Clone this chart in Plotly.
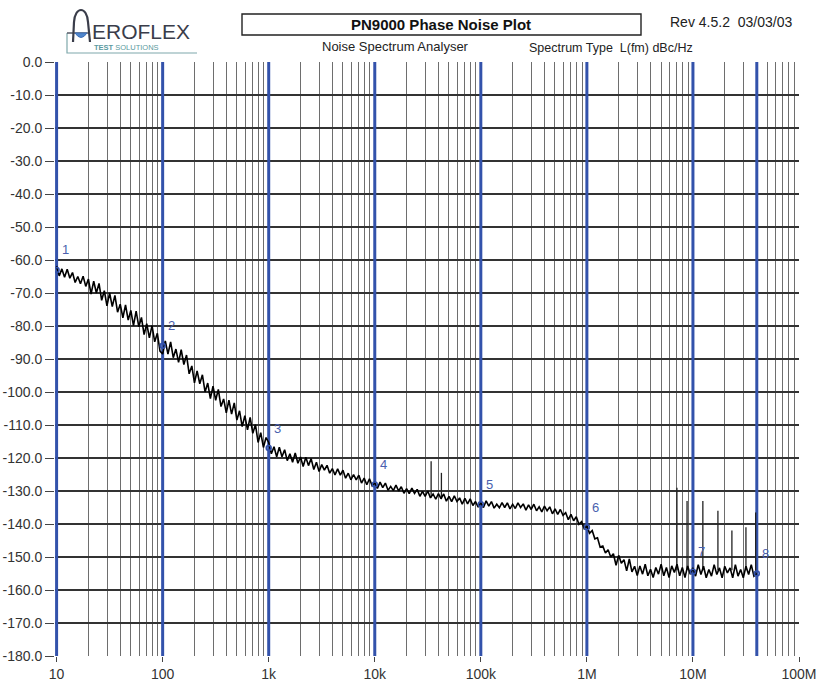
import math
import plotly.graph_objects as go

# ---------------- data ----------------
# analyser sample grid: 40 log-spaced points per decade
mantissa = [1.000, 1.059, 1.122, 1.189, 1.259, 1.334, 1.413, 1.496, 1.585, 1.679,
            1.778, 1.884, 1.995, 2.113, 2.239, 2.371, 2.512, 2.661, 2.818, 2.985,
            3.162, 3.350, 3.548, 3.758, 3.981, 4.217, 4.467, 4.732, 5.012, 5.309,
            5.623, 5.957, 6.310, 6.683, 7.079, 7.499, 7.943, 8.414, 8.913, 9.441]
decade_start_hz = [10, 100, 1e3, 1e4, 1e5, 1e6, 1e7]

level_10hz = [-61.8, -64.8, -62.7, -65.2, -62.8, -65.5, -63.8, -66.8, -65.0, -67.2,
              -64.9, -68.0, -65.8, -70.3, -66.4, -70.0, -67.1, -72.2, -69.3, -73.9,
              -70.0, -74.1, -70.7, -75.8, -73.4, -77.5, -73.6, -78.2, -75.3, -79.9,
              -75.5, -80.2, -77.4, -82.6, -79.3, -83.6, -79.9, -84.8, -82.2, -87.6]
level_100hz = [-88.5, -84.5, -88.5, -84.8, -89.6, -87.0, -91.0, -87.2, -91.7, -88.8,
               -94.5, -92.1, -97.2, -93.6, -97.5, -94.8, -100.0, -97.3, -102.0, -98.2,
               -102.5, -99.2, -104.4, -102.1, -106.3, -102.5, -106.7, -103.3, -108.5, -105.7,
               -110.5, -107.2, -111.5, -107.7, -112.5, -109.9, -115.3, -112.3, -116.8, -113.8]
level_1khz = [-115.3, -118.7, -116.6, -119.6, -116.7, -119.6, -117.5, -120.8, -118.7, -121.3,
              -118.5, -121.6, -119.7, -122.6, -119.8, -122.3, -120.2, -123.5, -121.3, -124.1,
              -122.0, -123.7, -122.2, -124.6, -123.2, -125.1, -123.3, -125.2, -123.7, -126.1,
              -124.6, -126.6, -125.0, -126.6, -125.2, -127.6, -126.1, -128.1, -126.3, -128.4]
level_10khz = [-127.5, -129.2, -127.3, -129.0, -127.6, -129.8, -128.6, -129.9, -128.2, -130.0,
               -128.7, -130.7, -129.3, -130.8, -129.1, -130.7, -129.5, -131.6, -130.1, -131.6,
               -130.0, -132.1, -130.9, -132.5, -130.8, -132.3, -130.9, -133.1, -131.6, -133.2,
               -131.5, -133.2, -132.1, -134.0, -132.2, -133.9, -132.4, -134.4, -133.2, -134.9]
level_100khz = [-133.5, -135.0, -133.0, -134.6, -133.2, -135.2, -134.0, -135.1, -133.5, -135.0,
                -133.6, -135.4, -134.0, -135.3, -133.6, -135.0, -133.9, -135.8, -134.2, -135.6,
                -134.0, -136.0, -134.8, -136.3, -134.6, -136.0, -134.8, -136.9, -135.4, -137.1,
                -135.6, -137.4, -136.6, -138.7, -137.1, -139.0, -137.8, -140.1, -139.3, -141.4]
level_1mhz = [-140.5, -142.8, -142.0, -144.5, -144.2, -147.0, -146.7, -148.8, -147.8, -150.0,
              -149.0, -152.5, -149.5, -151.9, -150.8, -154.2, -150.6, -154.5, -152.8, -155.6,
              -152.7, -155.2, -152.2, -155.7, -153.7, -156.2, -153.2, -155.2, -152.2, -155.7,
              -153.2, -156.2, -152.7, -154.7, -152.2, -155.7, -153.2, -156.2, -152.7, -155.2]
level_10mhz = [-153.3, -155.8, -152.3, -155.3, -152.8, -156.3, -153.8, -155.8, -152.3, -155.3,
               -153.3, -156.3, -152.8, -154.8, -153.3, -156.3, -152.3, -155.8, -153.8, -156.3,
               -152.8, -155.3, -152.3, -155.8]
stop_freq_hz = 4.0e7
stop_level_dbc = -155.0

spike_freq_hz = [3.4e4, 4.25e4, 7.06e6, 8.8e6, 1.24e7, 1.72e7, 2.33e7, 3.16e7, 3.9e7]
spike_base_dbc = [-132, -132.5, -154, -154, -154, -154, -154, -154, -155]
spike_top_dbc = [-121, -124.5, -129, -133, -133, -136, -142, -141, -136.5]

marker_ids = ["1", "2", "3", "4", "5", "6", "7", "8"]
marker_freq_hz = [10, 100, 1e3, 1e4, 1e5, 1e6, 1e7, 4e7]
marker_level_dbc = [-63, -86, -117, -128, -134, -141, -154.5, -155]

x_tick_vals = [10, 100, 1e3, 1e4, 1e5, 1e6, 1e7, 1e8]
x_tick_text = ["10", "100", "1k", "10k", "100k", "1M", "10M", "100M"]
y_tick_vals = [0, -10, -20, -30, -40, -50, -60, -70, -80, -90, -100,
               -110, -120, -130, -140, -150, -160, -170, -180]
y_tick_text = [f"{v:.1f}" for v in y_tick_vals]

# assemble trace
levels_by_decade = [level_10hz, level_100hz, level_1khz, level_10khz,
                    level_100khz, level_1mhz, level_10mhz]
freq_hz, level_dbc = [], []
for d, lv in zip(decade_start_hz, levels_by_decade):
    for m, v in zip(mantissa, lv):
        freq_hz.append(d * m)
        level_dbc.append(v)
freq_hz.append(stop_freq_hz)
level_dbc.append(stop_level_dbc)

# ---------------- styling ----------------
W, H = 818, 681
ML, MR, MT, MB = 55, 19, 62, 25
PW, PH = W - ML - MR, H - MT - MB
FONT = "Liberation Sans, Arial, sans-serif"
BLUE = "#3352ab"
GRID_V = "#6e6e6e"
GRID_H = "#333333"


def px(x):
    return (x - ML) / PW


def py(y):
    return (H - MB - y) / PH


fig = go.Figure()

# marker (cursor) lines
mx, my = [], []
for f in marker_freq_hz:
    mx += [f, f, None]
    my += [-180, 0, None]
fig.add_trace(go.Scatter(x=mx, y=my, mode="lines",
                         line=dict(color=BLUE, width=3), hoverinfo="skip",
                         showlegend=False))

# spurious spikes
sx, sy = [], []
for f, b, t in zip(spike_freq_hz, spike_base_dbc, spike_top_dbc):
    sx += [f, f, None]
    sy += [b, t, None]
fig.add_trace(go.Scatter(x=sx, y=sy, mode="lines",
                         line=dict(color="#222222", width=1.3),
                         showlegend=False, hoverinfo="skip"))

# phase noise trace
fig.add_trace(go.Scatter(x=freq_hz, y=level_dbc, mode="lines",
                         line=dict(color="#000000", width=1.6),
                         showlegend=False))

# marker points
fig.add_trace(go.Scatter(x=marker_freq_hz, y=marker_level_dbc, mode="markers",
                         marker=dict(symbol="circle-open", size=5,
                                     color=BLUE, line=dict(width=1.5)),
                         showlegend=False))

annotations = []
for mid, f, lv in zip(marker_ids, marker_freq_hz, marker_level_dbc):
    annotations.append(dict(x=math.log10(f), y=lv, xref="x", yref="y",
                            text=mid, showarrow=False, xshift=9, yshift=20,
                            xanchor="center", yanchor="middle",
                            font=dict(family=FONT, size=13, color="#4a5fae")))

# header texts
annotations += [
    dict(x=px(441), y=py(24.5), xref="paper", yref="paper",
         xanchor="center", yanchor="middle",
         text="<b>PN9000 Phase Noise Plot</b>", showarrow=False,
         font=dict(family=FONT, size=15, color="#111111")),
    dict(x=px(794), y=py(22), xref="paper", yref="paper",
         xanchor="right", yanchor="middle",
         text="Rev 4.5.2&nbsp;&nbsp;03/03/03", showarrow=False,
         font=dict(family=FONT, size=14, color="#222222")),
    dict(x=px(320), y=py(46.5), xref="paper", yref="paper",
         xanchor="left", yanchor="middle",
         text="Noise Spectrum Analyser", showarrow=False,
         font=dict(family=FONT, size=13, color="#222222")),
    dict(x=px(527), y=py(48), xref="paper", yref="paper",
         xanchor="left", yanchor="middle",
         text="Spectrum Type&nbsp;&nbsp;L(fm) dBc/Hz", showarrow=False,
         font=dict(family=FONT, size=12.5, color="#222222")),
    dict(x=px(90), y=py(32), xref="paper", yref="paper",
         xanchor="left", yanchor="middle",
         text="EROFLEX", showarrow=False,
         font=dict(family=FONT, size=21, color="#3a3d4a")),
    dict(x=px(92), y=py(47.5), xref="paper", yref="paper",
         xanchor="left", yanchor="middle",
         text="<b>TEST</b> SOLUTIONS", showarrow=False,
         font=dict(family=FONT, size=7.5, color="#5b9aa0")),
]

shapes = [
    # title box
    dict(type="rect", xref="paper", yref="paper",
         x0=px(242), x1=px(641), y0=py(35), y1=py(14),
         line=dict(color="#222222", width=1.4), fillcolor="rgba(0,0,0,0)"),
    # logo bracket
    dict(type="path", xref="paper", yref="paper",
         path=f"M {px(67)},{py(33)} L {px(67)},{py(53)} L {px(197)},{py(53)}",
         line=dict(color="#7fa8ab", width=1.2)),
    dict(type="line", xref="paper", yref="paper",
         x0=px(67), x1=px(90), y0=py(33), y1=py(33),
         line=dict(color="#555a66", width=1.5)),
    # logo arch (stylised A)
    dict(type="path", xref="paper", yref="paper",
         path=(f"M {px(73)},{py(42)} L {px(74)},{py(22)} "
               f"C {px(75)},{py(6)} {px(87)},{py(6)} {px(88)},{py(22)} "
               f"L {px(90)},{py(42)}"),
         line=dict(color="#3a3d4a", width=2.2)),
    dict(type="path", xref="paper", yref="paper",
         path=(f"M {px(75)},{py(33)} L {px(87)},{py(33)} "
               f"Q {px(81)},{py(42)} {px(75)},{py(33)} Z"),
         line=dict(color="#3f6fb8", width=1), fillcolor="#4f86cc"),
]

fig.update_layout(
    width=W, height=H,
    margin=dict(l=ML, r=MR, t=MT, b=MB, pad=0, autoexpand=False),
    paper_bgcolor="white", plot_bgcolor="white",
    showlegend=False,
    annotations=annotations,
    shapes=shapes,
    xaxis=dict(type="log", range=[0.985, 8], automargin=False,
               tickvals=x_tick_vals, ticktext=x_tick_text,
               ticks="outside", ticklen=5, tickcolor="#444", tickwidth=1,
               showgrid=True, gridcolor=GRID_V, gridwidth=1,
               minor=dict(dtick="D1", showgrid=True, gridcolor=GRID_V,
                          gridwidth=1, ticks=""),
               showline=False, zeroline=False,
               tickfont=dict(family=FONT, size=14, color="#333333")),
    yaxis=dict(range=[-180, 0], automargin=False,
               tickvals=y_tick_vals, ticktext=y_tick_text,
               ticks="outside", ticklen=9, tickcolor="#444", tickwidth=1,
               showgrid=True, gridcolor=GRID_H, gridwidth=1.5,
               showline=False, zeroline=False,
               tickfont=dict(family=FONT, size=14, color="#333333")),
)

fig.write_html("out.html",
               config={"displayModeBar": False},
               post_script="document.body.style.margin='0';"
                           "document.body.style.padding='0';"
                           "document.body.style.overflow='hidden';")
